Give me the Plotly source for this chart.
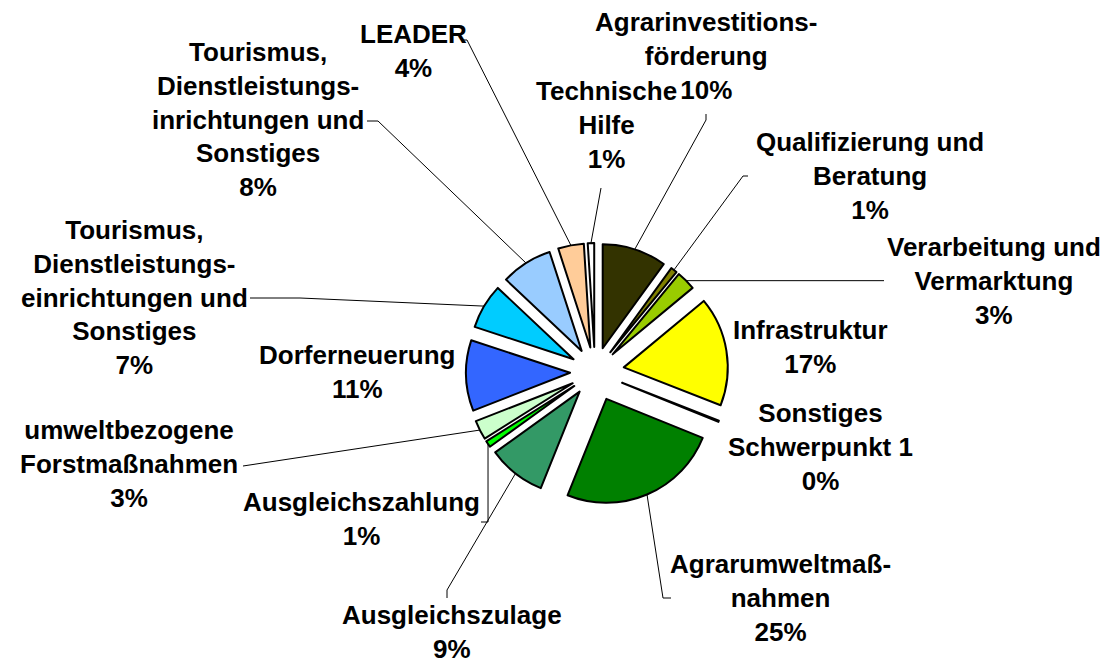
import math
import plotly.graph_objects as go

W, H = 1115, 666

# ---- data -------------------------------------------------------------
categories = [
    "Agrarinvestitions-<br>förderung",
    "Qualifizierung und<br>Beratung",
    "Verarbeitung und<br>Vermarktung",
    "Infrastruktur",
    "Sonstiges<br>Schwerpunkt 1",
    "Agrarumweltmaß-<br>nahmen",
    "Ausgleichszulage",
    "Ausgleichszahlung",
    "umweltbezogene<br>Forstmaßnahmen",
    "Dorferneuerung",
    "Tourismus,<br>Dienstleistungs-<br>einrichtungen und<br>Sonstiges",
    "Tourismus,<br>Dienstleistungs-<br>inrichtungen und<br>Sonstiges",
    "LEADER",
    "Technische<br>Hilfe",
]
values = [10, 1, 3, 17, 0.2, 25, 9, 1, 3, 11, 7, 8, 4, 1]
pct_labels = ["10%", "1%", "3%", "17%", "0%", "25%", "9%", "1%", "3%",
              "11%", "7%", "8%", "4%", "1%"]
colors = ["#333300", "#808000", "#99CC00", "#FFFF00", "#000000", "#008000",
          "#339966", "#00FF00", "#CCFFCC", "#3366FF", "#00CCFF", "#99CCFF",
          "#FFCC99", "#FFFFFF"]
pulls = [0.24, 0.24, 0.24, 0.28, 0.28, 0.28, 0.24, 0.24, 0.24, 0.24,
         0.24, 0.24, 0.24, 0.24]

# ---- layout / geometry ------------------------------------------------
CX, CY = 595, 372          # pie centre (px)
R = 104                    # pie radius (px)
box = 2 * R * (1 + max(pulls))
dom_x = [(CX - box / 2) / W, (CX + box / 2) / W]
dom_y = [1 - (CY + box / 2) / H, 1 - (CY - box / 2) / H]

# label placement (centre px) and leader-line label-side points (px)
label_pos = [
    (706, 56), (870, 176), (994, 281), (810, 347), (820, 447),
    (780, 598), (452, 632), (361, 519), (129, 464), (357, 372),
    (134, 297), (258, 119), (413, 51), (606, 125),
]
leader = {
    0: [(706, 114), (706, 120)],
    1: [(748, 176), (743, 176)],
    2: [(884, None)],
    5: [(671, 598), (663, 598)],
    6: [(447, 598), (447, 590)],
    7: [(481, 522), (None, 522)],
    8: [(243, 466)],
    10: [(250, 298), (300, 298)],
    11: [(367, 121), (378, 121)],
    12: [(462, 40), (467, 40)],
    13: [(601, 188)],
}


def px(x, y):
    return x / W, 1 - y / H


total = sum(values)
cum = 0
anchors = []
for v, p in zip(values, pulls):
    mid = (cum + v / 2) / total * 2 * math.pi
    cum += v
    rr = R * (1 + p)
    anchors.append((CX + rr * math.sin(mid), CY - rr * math.cos(mid)))

fig = go.Figure(go.Pie(
    labels=[f"{c} {pc} #{i}" for i, (c, pc) in enumerate(zip(categories, pct_labels))],
    values=values,
    sort=False,
    direction="clockwise",
    rotation=0,
    pull=pulls,
    textinfo="none",
    hoverinfo="label",
    marker=dict(colors=colors, line=dict(color="#000000", width=2)),
    domain=dict(x=dom_x, y=dom_y),
    showlegend=False,
))

FONT = dict(family="Liberation Sans, Arial, sans-serif", size=26, color="#000000")

annotations = []
for i, (c, pc) in enumerate(zip(categories, pct_labels)):
    lx, ly = label_pos[i]
    x, y = px(lx, ly)
    annotations.append(dict(
        x=x, y=y, xref="paper", yref="paper", showarrow=False,
        text=f"<b>{c}<br>{pc}</b>", font=FONT, align="center",
        xanchor="center", yanchor="middle",
    ))

shapes = []
for i, pts in leader.items():
    ax, ay = anchors[i]
    full = []
    for (x, y) in pts:
        full.append((ax if x is None else x, ay if y is None else y))
    full.append((ax, ay))
    path = "M " + " L ".join(f"{px(x, y)[0]},{px(x, y)[1]}" for x, y in full)
    shapes.append(dict(type="path", path=path, xref="paper", yref="paper",
                       line=dict(color="#000000", width=1)))

fig.update_layout(
    width=W, height=H,
    margin=dict(l=0, r=0, t=0, b=0),
    paper_bgcolor="#FFFFFF", plot_bgcolor="#FFFFFF",
    annotations=annotations, shapes=shapes,
)

fig.write_html(
    "out.html",
    config={"displayModeBar": False},
    post_script="document.body.style.margin='0px';document.body.style.overflow='hidden';",
)
